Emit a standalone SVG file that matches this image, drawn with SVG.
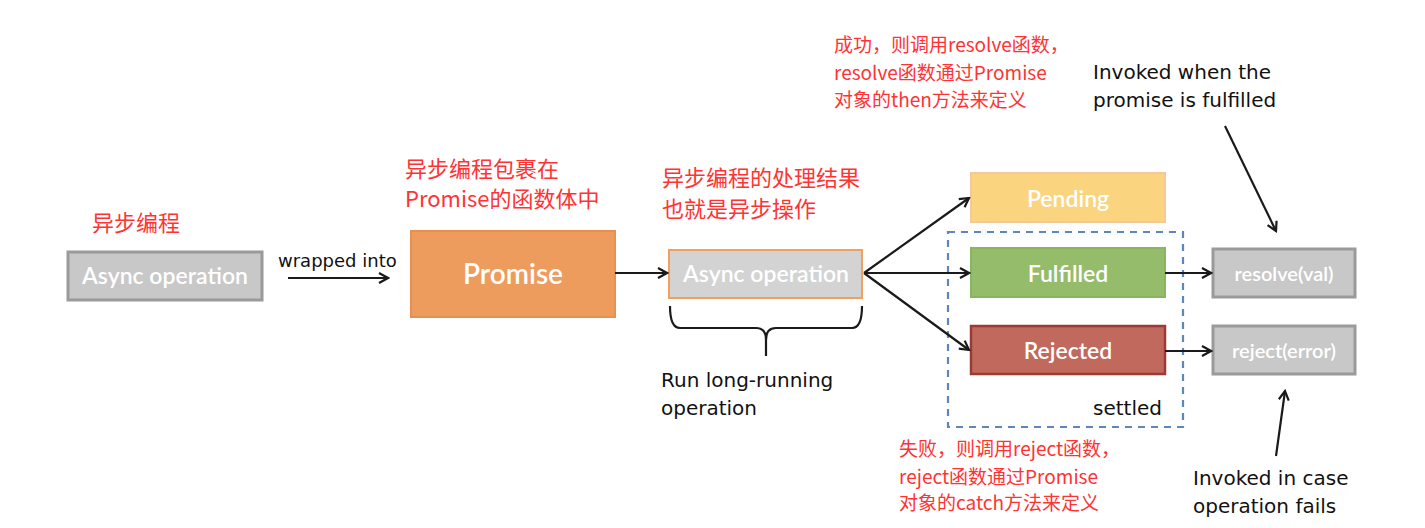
<svg xmlns="http://www.w3.org/2000/svg" width="1425" height="528" viewBox="0 0 1425 528">
<defs>
<marker id="ah" markerWidth="12" markerHeight="12" refX="10" refY="6" orient="auto" markerUnits="userSpaceOnUse">
<path d="M1,1 L10,6 L1,11" fill="none" stroke="#1a1a1a" stroke-width="2.2" stroke-linejoin="miter"/>
</marker>
<style>
.cn{font-family:"Noto Sans CJK SC",sans-serif;fill:#ff3333;font-size:22px}
.cs{font-size:19px}
.hw{font-family:"DejaVu Sans",sans-serif;fill:#111;font-size:20px}
.bt{font-family:Lato,"Open Sans",sans-serif;fill:#ffffff;font-size:23px;font-weight:600;text-anchor:middle}
.gray{fill:#c8c8c8;stroke:#9a9a9a;stroke-width:3}
.ln{stroke:#1a1a1a;stroke-width:2.2;fill:none}
</style>
</defs>
<rect width="1425" height="528" fill="#ffffff"/>

<g id="async1">
<rect class="gray" x="68" y="252" width="194" height="48"/>
<text class="bt" x="165" y="284">Async operation</text>
</g>
<text class="cn" x="92" y="231">异步编程</text>

<g id="promise">
<rect x="411" y="231" width="204" height="86" fill="#ee9b5e" stroke="#e98f4f" stroke-width="2"/>
<text class="bt" x="513" y="284" style="font-size:28px">Promise</text>
</g>
<text class="cn" x="405" y="177">异步编程包裹在</text>
<text class="cn" x="405" y="207">Promise的函数体中</text>

<g id="async2">
<rect x="669" y="250" width="193" height="48" fill="#d3d3d3" stroke="#f0a060" stroke-width="2"/>
<text class="bt" x="766" y="282">Async operation</text>
</g>
<text class="cn" x="662" y="186">异步编程的处理结果</text>
<text class="cn" x="662" y="217">也就是异步操作</text>

<g id="pending">
<rect x="971" y="173" width="194" height="49" fill="#fad47f" stroke="#f7c79c" stroke-width="2"/>
<text class="bt" x="1068" y="207">Pending</text>
</g>
<g id="fulfilled">
<rect x="971" y="248" width="194" height="49" fill="#95bc6a" stroke="#88b65e" stroke-width="2"/>
<text class="bt" x="1068" y="282">Fulfilled</text>
</g>
<g id="rejected">
<rect x="971" y="326" width="194" height="48" fill="#c0695c" stroke="#9c3b33" stroke-width="2.5"/>
<text class="bt" x="1068" y="359">Rejected</text>
</g>
<g id="settled">
<rect x="948" y="232" width="235" height="195" fill="none" stroke="#5b88b9" stroke-width="2.2" stroke-dasharray="7,6"/>
<text class="hw" x="1093" y="415">settled</text>
</g>

<g id="resolve">
<rect class="gray" x="1213" y="249" width="142" height="48"/>
<text class="bt" x="1284" y="281" style="font-size:20px">resolve(val)</text>
</g>
<g id="reject">
<rect class="gray" x="1213" y="326" width="142" height="48"/>
<text class="bt" x="1284" y="358" style="font-size:20px">reject(error)</text>
</g>

<g id="connectors">
<line class="ln" x1="288" y1="278" x2="388" y2="278" marker-end="url(#ah)"/>
<line class="ln" x1="615" y1="273" x2="667" y2="273" marker-end="url(#ah)"/>
<line class="ln" x1="864" y1="273" x2="969" y2="198" marker-end="url(#ah)"/>
<line class="ln" x1="864" y1="273" x2="969" y2="273" marker-end="url(#ah)"/>
<line class="ln" x1="864" y1="273" x2="969" y2="350" marker-end="url(#ah)"/>
<line class="ln" x1="1165" y1="273" x2="1211" y2="273" marker-end="url(#ah)"/>
<line class="ln" x1="1165" y1="351" x2="1211" y2="351" marker-end="url(#ah)"/>
<line class="ln" x1="1225" y1="126" x2="1276" y2="231" marker-end="url(#ah)"/>
<line class="ln" x1="1276" y1="456" x2="1285" y2="391" marker-end="url(#ah)"/>
<path class="ln" d="M670,306 Q670,328 680,328 L756,328 Q766,328 766,340 L766,356 M766,340 Q766,328 776,328 L852,328 Q862,328 862,306"/>
</g>

<text class="hw" x="278" y="267" style="font-size:18px">wrapped into</text>
<text class="hw" x="661" y="387">Run long-running</text>
<text class="hw" x="661" y="415">operation</text>
<text class="hw" x="1093" y="79">Invoked when the</text>
<text class="hw" x="1093" y="107">promise is fulfilled</text>
<text class="hw" x="1193" y="485">Invoked in case</text>
<text class="hw" x="1193" y="513">operation fails</text>

<text class="cn cs" x="834" y="52">成功，则调用resolve函数，</text>
<text class="cn cs" x="834" y="80">resolve函数通过Promise</text>
<text class="cn cs" x="834" y="107">对象的then方法来定义</text>
<text class="cn cs" x="899" y="456">失败，则调用reject函数，</text>
<text class="cn cs" x="899" y="484">reject函数通过Promise</text>
<text class="cn cs" x="899" y="510">对象的catch方法来定义</text>
</svg>
